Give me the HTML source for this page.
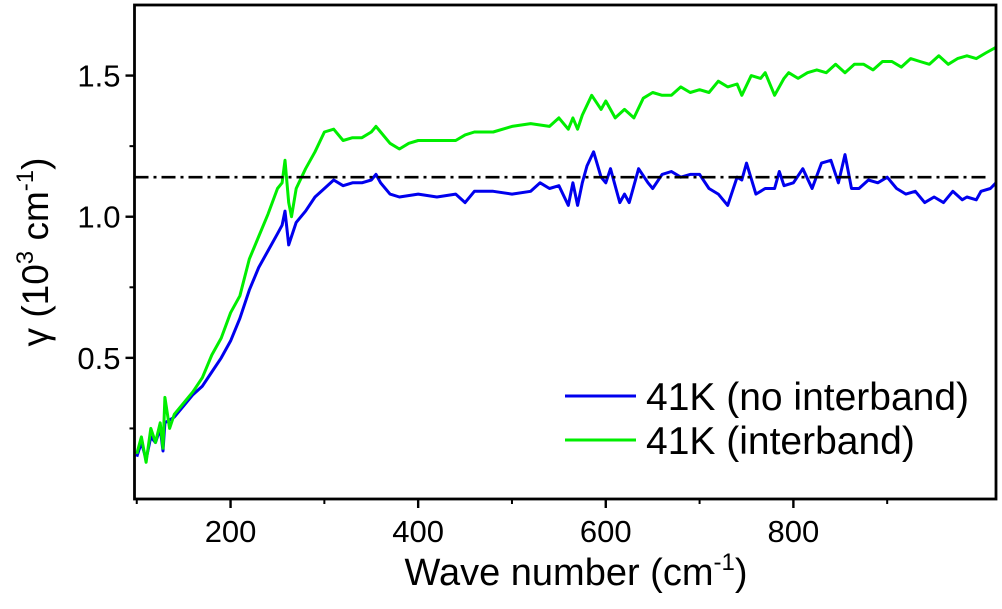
<!DOCTYPE html>
<html><head><meta charset="utf-8"><style>
html,body{margin:0;padding:0;background:#fff;}
svg{display:block;font-family:"Liberation Sans",Arial,sans-serif;}
</style></head><body>
<svg id="chart" width="1002" height="609">
<g id="plot"></g>
</svg>
<script>
const xTicks=[200,400,600,800];
const xMinor=[100,300,500,700,900];
const yTicks=[0.5,1.0,1.5];
const yMinor=[0.25,0.75,1.25];
const refLevel=1.14;
const blueX=[100,105,110,115,120,125,128,130,140,150,160,170,180,190,200,210,220,230,240,250,255,258,262,270,280,290,300,310,320,330,340,350,355,360,370,380,400,420,440,450,460,480,500,520,530,540,550,560,565,570,575,580,587,595,600,605,615,620,625,635,645,650,660,670,680,690,700,710,720,730,740,745,750,760,770,780,785,790,800,810,820,830,840,848,855,862,870,880,890,900,910,920,930,940,950,960,970,980,985,995,1000,1010,1016];
const blueY=[0.15,0.20,0.14,0.22,0.20,0.25,0.17,0.27,0.29,0.33,0.37,0.40,0.45,0.50,0.56,0.64,0.74,0.82,0.88,0.94,0.97,1.02,0.90,0.98,1.02,1.07,1.10,1.13,1.11,1.12,1.12,1.13,1.15,1.12,1.08,1.07,1.08,1.07,1.08,1.05,1.09,1.09,1.08,1.09,1.12,1.10,1.11,1.04,1.12,1.04,1.12,1.18,1.23,1.14,1.12,1.17,1.05,1.08,1.05,1.17,1.12,1.10,1.15,1.16,1.14,1.15,1.15,1.10,1.08,1.04,1.14,1.13,1.19,1.08,1.10,1.10,1.16,1.11,1.12,1.17,1.10,1.19,1.20,1.12,1.22,1.10,1.10,1.13,1.12,1.14,1.10,1.08,1.09,1.05,1.07,1.05,1.09,1.06,1.07,1.06,1.09,1.10,1.12];
const greenX=[100,105,110,115,120,125,128,130,135,140,150,160,170,180,190,200,210,220,230,240,250,255,258,262,265,270,280,290,300,310,320,330,340,350,355,360,370,380,390,400,420,440,450,460,480,500,520,540,550,560,565,570,575,585,595,600,610,620,630,640,650,660,670,680,690,700,710,720,730,740,745,755,765,770,780,790,795,805,815,825,835,845,855,865,875,885,895,905,915,925,935,945,955,965,975,985,995,1005,1016];
const greenY=[0.16,0.22,0.13,0.25,0.20,0.27,0.18,0.36,0.25,0.30,0.34,0.38,0.43,0.51,0.57,0.66,0.72,0.85,0.93,1.01,1.10,1.12,1.20,1.05,1.00,1.10,1.17,1.23,1.30,1.31,1.27,1.28,1.28,1.30,1.32,1.30,1.26,1.24,1.26,1.27,1.27,1.27,1.29,1.30,1.30,1.32,1.33,1.32,1.35,1.31,1.35,1.31,1.36,1.43,1.38,1.41,1.35,1.38,1.35,1.42,1.44,1.43,1.43,1.46,1.44,1.45,1.44,1.48,1.46,1.47,1.43,1.50,1.49,1.51,1.43,1.49,1.51,1.49,1.51,1.52,1.51,1.54,1.51,1.54,1.54,1.52,1.55,1.55,1.53,1.56,1.55,1.54,1.57,1.54,1.56,1.57,1.56,1.58,1.60];

const L=134.5,R=996,T=5,B=499;
const X0=97.6,X1=1016,Y0=0,Y1=1.75;
const sx=v=>L+(v-X0)/(X1-X0)*(R-L);
const sy=v=>B-(v-Y0)/(Y1-Y0)*(B-T);
const NS='http://www.w3.org/2000/svg';
const g=document.getElementById('plot');
function mk(tag,attrs,parent){const e=document.createElementNS(NS,tag);for(const k in attrs)e.setAttribute(k,attrs[k]);(parent||g).appendChild(e);return e;}

const clip=mk('clipPath',{id:'cl'});mk('rect',{x:L,y:T,width:R-L,height:B-T},clip);

function series(xs,ys,color,name){
  const d=xs.map((x,i)=>(i?'L':'M')+sx(x).toFixed(1)+','+sy(ys[i]).toFixed(1)).join('');
  const p=mk('path',{d:d,fill:'none',stroke:color,'stroke-width':3,'stroke-linejoin':'round','clip-path':'url(#cl)'});
  
  
}
series(blueX,blueY,'#0000ee','series-no-interband');
series(greenX,greenY,'#00ee00','series-interband');

const ref=mk('line',{x1:L,x2:R-6,y1:sy(refLevel),y2:sy(refLevel),stroke:'#000','stroke-width':2.6,'stroke-dasharray':'14 5 3 5'});



const frame=mk('rect',{x:L,y:T,width:R-L,height:B-T,fill:'none',stroke:'#000','stroke-width':2.8});



xTicks.forEach(v=>{
  mk('line',{x1:sx(v),x2:sx(v),y1:B,y2:B+9,stroke:'#000','stroke-width':2.4});
  const t=mk('text',{x:sx(v),y:B+43,'font-size':31,'text-anchor':'middle'});t.textContent=v;
  
  
});
xMinor.forEach(v=>{mk('line',{x1:sx(v),x2:sx(v),y1:B,y2:B+5,stroke:'#000','stroke-width':2});});
yTicks.forEach(v=>{
  mk('line',{x1:L-9,x2:L,y1:sy(v),y2:sy(v),stroke:'#000','stroke-width':2.4});
  const t=mk('text',{x:L-14,y:sy(v)+11,'font-size':31,'text-anchor':'end'});t.textContent=v.toFixed(1);
  
  
});
yMinor.forEach(v=>{mk('line',{x1:L-5,x2:L,y1:sy(v),y2:sy(v),stroke:'#000','stroke-width':2});});

const xt=mk('text',{x:576,y:585,'font-size':38,'text-anchor':'middle'});
xt.innerHTML='Wave number (cm<tspan dy="-15" font-size="24">-1</tspan><tspan dy="15">)</tspan>';



const yt=mk('text',{x:0,y:0,'font-size':37,'text-anchor':'middle',transform:'translate(48,252) rotate(-90)'});
yt.innerHTML='γ (10<tspan dy="-15" font-size="24">3</tspan><tspan dy="15"> cm</tspan><tspan dy="-15" font-size="24">-1</tspan><tspan dy="15">)</tspan>';



function legend(y,color,label,name){
  const lg=mk('g',{});
  
  
  mk('line',{x1:565,x2:636,y1:y,y2:y,stroke:color,'stroke-width':3},lg);
  const t=mk('text',{x:646,y:y+14,'font-size':39},lg);t.textContent=label;
}
legend(396,'#0000ee','41K (no interband)','legend-entry-no-interband');
legend(440,'#00ee00','41K (interband)','legend-entry-interband');
</script>
</body></html>
